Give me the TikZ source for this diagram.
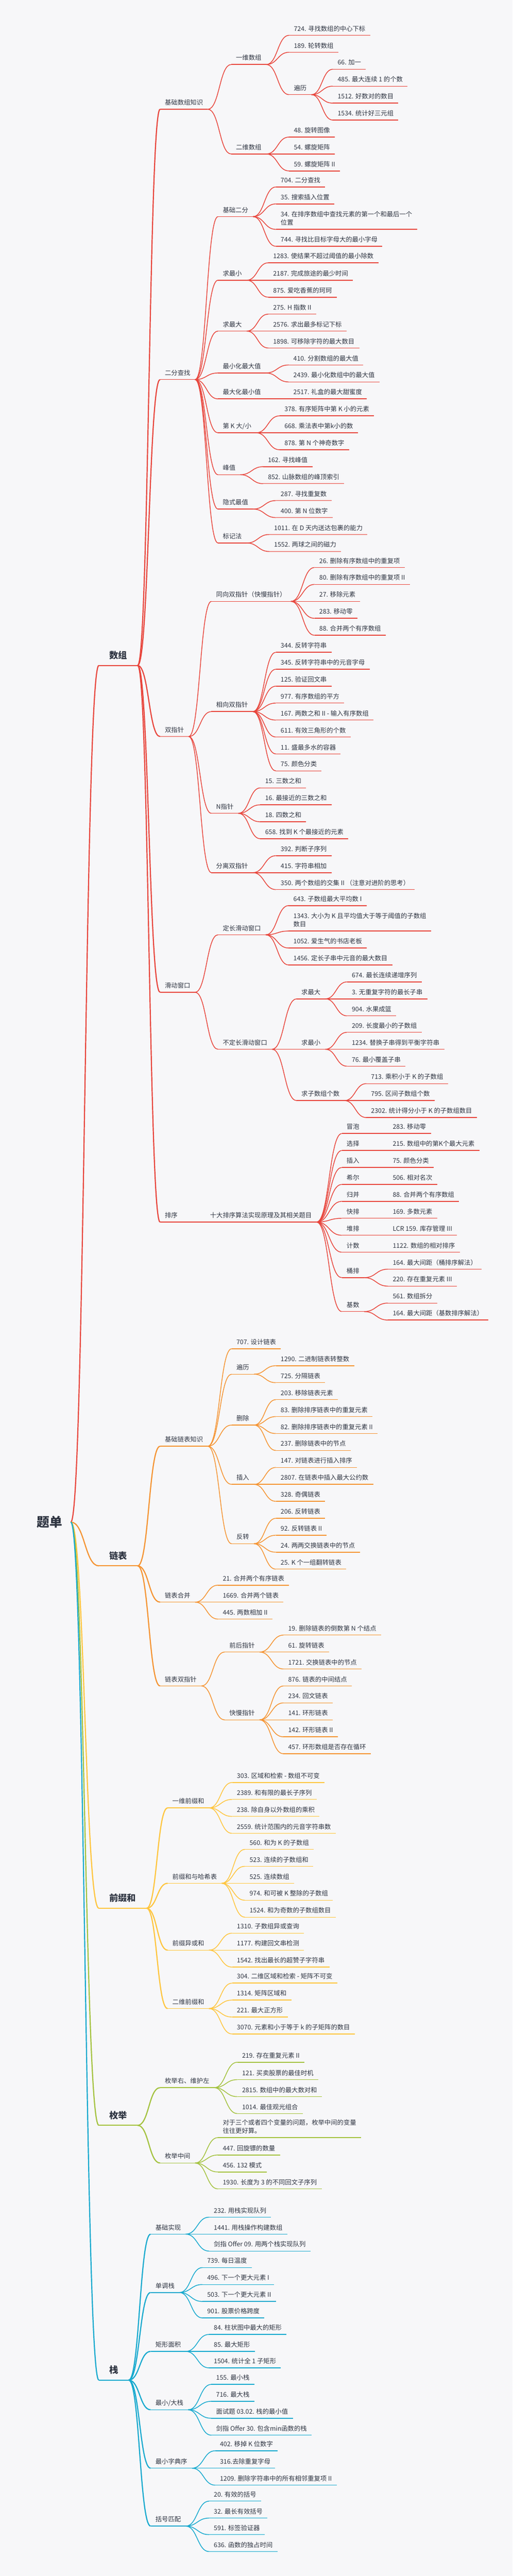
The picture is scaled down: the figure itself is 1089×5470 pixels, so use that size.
\documentclass[tikz,border=0pt]{standalone}
\usepackage{fontspec}
\setmainfont{Noto Sans CJK SC}
\usetikzlibrary{calc}

\definecolor{ink}{HTML}{2F3542}
\definecolor{paper}{HTML}{F7F7F9}
\definecolor{shuzu}{HTML}{E8453C}
\definecolor{lianbiao}{HTML}{F59331}
\definecolor{qianzhui}{HTML}{FFC53D}
\definecolor{meiju}{HTML}{A3C23E}
\definecolor{zhan}{HTML}{16A9CE}
\colorlet{branch}{shuzu}

\begin{document}
\begin{tikzpicture}[x=1pt, y=-1pt,
  base node/.style={anchor=south west, text=ink, align=left, text depth=2pt},
  topic node/.style={base node, inner xsep=10pt, inner ysep=7pt, font=\fontsize{13.5}{18}\selectfont,
    append after command={(\tikzlastnode.south west) edge[draw=branch, line width=1.6pt] (\tikzlastnode.south east)}},
  main node/.style={base node, inner xsep=22pt, inner ysep=12pt, font=\bfseries\fontsize{19}{22}\selectfont,
    append after command={(\tikzlastnode.south west) edge[draw=branch, line width=2.4pt] (\tikzlastnode.south east)}},
  root node/.style={anchor=west, text=ink, inner xsep=18pt, font=\bfseries\fontsize{27}{30}\selectfont},
  link/.style={draw=branch, line width=1.6pt, to path={let \p1=(\tikztostart), \p2=(\tikztotarget) in
    .. controls ({0.5*(\x1+\x2)},\y1) and ({0.5*(\x1+\x2)},\y2) .. (\tikztotarget)}},
  main link/.style={link, line width=2.4pt}]

\fill[paper] (0,0) rectangle (1089,5470);

\node[root node] (root) at (60,3232) {题单};

% 数组
\colorlet{branch}{shuzu}
\node[main node] (a0) at (210,1413) {数组};
\path[main link] (root.east) edge (a0.south west);

\node[topic node] (a1) at (340,232) {基础数组知识};
\node[topic node] (a11) at (491,137) {一维数组};
\node[topic node] (a111) at (614,75) {724. 寻找数组的中心下标};
\node[topic node] (a112) at (614,111) {189. 轮转数组};
\node[topic node] (a113) at (614,201) {遍历};
\node[topic node] (a1131) at (707,147) {66. 加一};
\node[topic node] (a1132) at (707,183) {485. 最大连续 1 的个数};
\node[topic node] (a1133) at (707,219) {1512. 好数对的数目};
\node[topic node] (a1134) at (707,255) {1534. 统计好三元组};
\node[topic node] (a12) at (491,327) {二维数组};
\node[topic node] (a121) at (614,291) {48. 旋转图像};
\node[topic node] (a122) at (614,327) {54. 螺旋矩阵};
\node[topic node] (a123) at (614,363) {59. 螺旋矩阵 II};

\node[topic node] (a2) at (340,806) {二分查找};
\node[topic node] (a21) at (463,460) {基础二分};
\node[topic node] (a211) at (586,397) {704. 二分查找};
\node[topic node] (a212) at (586,433) {35. 搜索插入位置};
\node[topic node] (a213) at (586,487) {34. 在排序数组中查找元素的第一个和最后一个\\位置};
\node[topic node] (a214) at (586,523) {744. 寻找比目标字母大的最小字母};
\node[topic node] (a22) at (463,595) {求最小};
\node[topic node] (a221) at (570,558) {1283. 使结果不超过阈值的最小除数};
\node[topic node] (a222) at (570,595) {2187. 完成旅途的最少时间};
\node[topic node] (a223) at (570,631) {875. 爱吃香蕉的珂珂};
\node[topic node] (a23) at (463,703) {求最大};
\node[topic node] (a231) at (570,667) {275. H 指数 II};
\node[topic node] (a232) at (570,703) {2576. 求出最多标记下标};
\node[topic node] (a233) at (570,739) {1898. 可移除字符的最大数目};
\node[topic node] (a24) at (463,792) {最小化最大值};
\node[topic node] (a241) at (613,775) {410. 分割数组的最大值};
\node[topic node] (a242) at (613,811) {2439. 最小化数组中的最大值};
\node[topic node] (a25) at (463,847) {最大化最小值};
\node[topic node] (a251) at (613,847) {2517. 礼盒的最大甜蜜度};
\node[topic node] (a26) at (463,919) {第 K 大/小};
\node[topic node] (a261) at (594,883) {378. 有序矩阵中第 K 小的元素};
\node[topic node] (a262) at (594,919) {668. 乘法表中第k小的数};
\node[topic node] (a263) at (594,955) {878. 第 N 个神奇数字};
\node[topic node] (a27) at (463,1008) {峰值};
\node[topic node] (a271) at (559,991) {162. 寻找峰值};
\node[topic node] (a272) at (559,1027) {852. 山脉数组的峰顶索引};
\node[topic node] (a28) at (463,1081) {隐式最值};
\node[topic node] (a281) at (586,1063) {287. 寻找重复数};
\node[topic node] (a282) at (586,1099) {400. 第 N 位数字};
\node[topic node] (a29) at (463,1153) {标记法};
\node[topic node] (a291) at (572,1135) {1011. 在 D 天内送达包裹的能力};
\node[topic node] (a292) at (572,1171) {1552. 两球之间的磁力};

\node[topic node] (a3) at (340,1564) {双指针};
\node[topic node] (a31) at (449,1277) {同向双指针（快慢指针）};
\node[topic node] (a311) at (668,1205) {26. 删除有序数组中的重复项};
\node[topic node] (a312) at (668,1241) {80. 删除有序数组中的重复项 II};
\node[topic node] (a313) at (668,1277) {27. 移除元素};
\node[topic node] (a314) at (668,1313) {283. 移动零};
\node[topic node] (a315) at (668,1349) {88. 合并两个有序数组};
\node[topic node] (a32) at (449,1511) {相向双指针};
\node[topic node] (a321) at (586,1385) {344. 反转字符串};
\node[topic node] (a322) at (586,1421) {345. 反转字符串中的元音字母};
\node[topic node] (a323) at (586,1457) {125. 验证回文串};
\node[topic node] (a324) at (586,1493) {977. 有序数组的平方};
\node[topic node] (a325) at (586,1529) {167. 两数之和 II - 输入有序数组};
\node[topic node] (a326) at (586,1565) {611. 有效三角形的个数};
\node[topic node] (a327) at (586,1601) {11. 盛最多水的容器};
\node[topic node] (a328) at (586,1637) {75. 颜色分类};
\node[topic node] (a33) at (449,1727) {N指针};
\node[topic node] (a331) at (553,1673) {15. 三数之和};
\node[topic node] (a332) at (553,1709) {16. 最接近的三数之和};
\node[topic node] (a333) at (553,1745) {18. 四数之和};
\node[topic node] (a334) at (553,1781) {658. 找到 K 个最接近的元素};
\node[topic node] (a34) at (449,1853) {分离双指针};
\node[topic node] (a341) at (586,1817) {392. 判断子序列};
\node[topic node] (a342) at (586,1853) {415. 字符串相加};
\node[topic node] (a343) at (586,1889) {350. 两个数组的交集 II （注意对进阶的思考）};

\node[topic node] (a4) at (340,2107) {滑动窗口};
\node[topic node] (a41) at (463,1985) {定长滑动窗口};
\node[topic node] (a411) at (613,1923) {643. 子数组最大平均数 I};
\node[topic node] (a412) at (613,1977) {1343. 大小为 K 且平均值大于等于阈值的子数组\\数目};
\node[topic node] (a413) at (613,2013) {1052. 爱生气的书店老板};
\node[topic node] (a414) at (613,2049) {1456. 定长子串中元音的最大数目};
\node[topic node] (a42) at (463,2228) {不定长滑动窗口};
\node[topic node] (a421) at (630,2121) {求最大};
\node[topic node] (a4211) at (737,2085) {674. 最长连续递增序列};
\node[topic node] (a4212) at (737,2121) {3. 无重复字符的最长子串};
\node[topic node] (a4213) at (737,2157) {904. 水果成篮};
\node[topic node] (a422) at (630,2228) {求最小};
\node[topic node] (a4221) at (737,2192) {209. 长度最小的子数组};
\node[topic node] (a4222) at (737,2228) {1234. 替换子串得到平衡字符串};
\node[topic node] (a4223) at (737,2264) {76. 最小覆盖子串};
\node[topic node] (a423) at (630,2337) {求子数组个数};
\node[topic node] (a4231) at (778,2301) {713. 乘积小于 K 的子数组};
\node[topic node] (a4232) at (778,2337) {795. 区间子数组个数};
\node[topic node] (a4233) at (778,2373) {2302. 统计得分小于 K 的子数组数目};

\node[topic node] (a5) at (340,2595) {排序};
\node[topic node] (a51) at (436,2595) {十大排序算法实现原理及其相关题目};
\node[topic node] (a511) at (726,2407) {冒泡};
\node[topic node] (a5111) at (824,2407) {283. 移动零};
\node[topic node] (a512) at (726,2443) {选择};
\node[topic node] (a5121) at (824,2443) {215. 数组中的第K个最大元素};
\node[topic node] (a513) at (726,2479) {插入};
\node[topic node] (a5131) at (824,2479) {75. 颜色分类};
\node[topic node] (a514) at (726,2515) {希尔};
\node[topic node] (a5141) at (824,2515) {506. 相对名次};
\node[topic node] (a515) at (726,2551) {归并};
\node[topic node] (a5151) at (824,2551) {88. 合并两个有序数组};
\node[topic node] (a516) at (726,2587) {快排};
\node[topic node] (a5161) at (824,2587) {169. 多数元素};
\node[topic node] (a517) at (726,2623) {堆排};
\node[topic node] (a5171) at (824,2623) {LCR 159. 库存管理 III};
\node[topic node] (a518) at (726,2659) {计数};
\node[topic node] (a5181) at (824,2659) {1122. 数组的相对排序};
\node[topic node] (a519) at (726,2713) {桶排};
\node[topic node] (a5191) at (824,2695) {164. 最大间距（桶排序解法）};
\node[topic node] (a5192) at (824,2731) {220. 存在重复元素 III};
\node[topic node] (a510) at (726,2785) {基数};
\node[topic node] (a5101) at (824,2767) {561. 数组拆分};
\node[topic node] (a5102) at (824,2803) {164. 最大间距（基数排序解法）};

\path[main link] (a0.south east) edge (a1.south west) edge (a2.south west) edge (a3.south west) edge (a4.south west) edge (a5.south west);
\path[link] (a1.south east) edge (a11.south west) edge (a12.south west);
\path[link] (a11.south east) edge (a111.south west) edge (a112.south west) edge (a113.south west);
\path[link] (a113.south east) edge (a1131.south west) edge (a1132.south west) edge (a1133.south west) edge (a1134.south west);
\path[link] (a12.south east) edge (a121.south west) edge (a122.south west) edge (a123.south west);
\path[link] (a2.south east) edge (a21.south west) edge (a22.south west) edge (a23.south west) edge (a24.south west) edge (a25.south west) edge (a26.south west) edge (a27.south west) edge (a28.south west) edge (a29.south west);
\path[link] (a21.south east) edge (a211.south west) edge (a212.south west) edge (a213.south west) edge (a214.south west);
\path[link] (a22.south east) edge (a221.south west) edge (a222.south west) edge (a223.south west);
\path[link] (a23.south east) edge (a231.south west) edge (a232.south west) edge (a233.south west);
\path[link] (a24.south east) edge (a241.south west) edge (a242.south west);
\path[link] (a25.south east) edge (a251.south west);
\path[link] (a26.south east) edge (a261.south west) edge (a262.south west) edge (a263.south west);
\path[link] (a27.south east) edge (a271.south west) edge (a272.south west);
\path[link] (a28.south east) edge (a281.south west) edge (a282.south west);
\path[link] (a29.south east) edge (a291.south west) edge (a292.south west);
\path[link] (a3.south east) edge (a31.south west) edge (a32.south west) edge (a33.south west) edge (a34.south west);
\path[link] (a31.south east) edge (a311.south west) edge (a312.south west) edge (a313.south west) edge (a314.south west) edge (a315.south west);
\path[link] (a32.south east) edge (a321.south west) edge (a322.south west) edge (a323.south west) edge (a324.south west) edge (a325.south west) edge (a326.south west) edge (a327.south west) edge (a328.south west);
\path[link] (a33.south east) edge (a331.south west) edge (a332.south west) edge (a333.south west) edge (a334.south west);
\path[link] (a34.south east) edge (a341.south west) edge (a342.south west) edge (a343.south west);
\path[link] (a4.south east) edge (a41.south west) edge (a42.south west);
\path[link] (a41.south east) edge (a411.south west) edge (a412.south west) edge (a413.south west) edge (a414.south west);
\path[link] (a42.south east) edge (a421.south west) edge (a422.south west) edge (a423.south west);
\path[link] (a421.south east) edge (a4211.south west) edge (a4212.south west) edge (a4213.south west);
\path[link] (a422.south east) edge (a4221.south west) edge (a4222.south west) edge (a4223.south west);
\path[link] (a423.south east) edge (a4231.south west) edge (a4232.south west) edge (a4233.south west);
\path[link] (a5.south east) edge (a51.south west);
\path[link] (a51.south east) edge (a511.south west) edge (a512.south west) edge (a513.south west) edge (a514.south west) edge (a515.south west) edge (a516.south west) edge (a517.south west) edge (a518.south west) edge (a519.south west) edge (a510.south west);
\path[link] (a511.south east) edge (a5111.south west);
\path[link] (a512.south east) edge (a5121.south west);
\path[link] (a513.south east) edge (a5131.south west);
\path[link] (a514.south east) edge (a5141.south west);
\path[link] (a515.south east) edge (a5151.south west);
\path[link] (a516.south east) edge (a5161.south west);
\path[link] (a517.south east) edge (a5171.south west);
\path[link] (a518.south east) edge (a5181.south west);
\path[link] (a519.south east) edge (a5191.south west) edge (a5192.south west);
\path[link] (a510.south east) edge (a5101.south west) edge (a5102.south west);

% 链表
\colorlet{branch}{lianbiao}
\node[main node] (b0) at (210,3325) {链表};
\path[main link] (root.east) edge (b0.south west);

\node[topic node] (b1) at (340,3071) {基础链表知识};
\node[topic node] (b11) at (492,2864) {707. 设计链表};
\node[topic node] (b12) at (492,2918) {遍历};
\node[topic node] (b121) at (586,2900) {1290. 二进制链表转整数};
\node[topic node] (b122) at (586,2936) {725. 分隔链表};
\node[topic node] (b13) at (492,3026) {删除};
\node[topic node] (b131) at (586,2972) {203. 移除链表元素};
\node[topic node] (b132) at (586,3008) {83. 删除排序链表中的重复元素};
\node[topic node] (b133) at (586,3044) {82. 删除排序链表中的重复元素 II};
\node[topic node] (b134) at (586,3080) {237. 删除链表中的节点};
\node[topic node] (b14) at (492,3152) {插入};
\node[topic node] (b141) at (586,3116) {147. 对链表进行插入排序};
\node[topic node] (b142) at (586,3152) {2807. 在链表中插入最大公约数};
\node[topic node] (b143) at (586,3188) {328. 奇偶链表};
\node[topic node] (b15) at (492,3278) {反转};
\node[topic node] (b151) at (586,3224) {206. 反转链表};
\node[topic node] (b152) at (586,3260) {92. 反转链表 II};
\node[topic node] (b153) at (586,3296) {24. 两两交换链表中的节点};
\node[topic node] (b154) at (586,3332) {25. K 个一组翻转链表};
\node[topic node] (b2) at (340,3402) {链表合并};
\node[topic node] (b21) at (463,3366) {21. 合并两个有序链表};
\node[topic node] (b22) at (463,3402) {1669. 合并两个链表};
\node[topic node] (b23) at (463,3438) {445. 两数相加 II};
\node[topic node] (b3) at (340,3580) {链表双指针};
\node[topic node] (b31) at (477,3508) {前后指针};
\node[topic node] (b311) at (602,3472) {19. 删除链表的倒数第 N 个结点};
\node[topic node] (b312) at (602,3508) {61. 旋转链表};
\node[topic node] (b313) at (602,3544) {1721. 交换链表中的节点};
\node[topic node] (b32) at (477,3652) {快慢指针};
\node[topic node] (b321) at (602,3580) {876. 链表的中间结点};
\node[topic node] (b322) at (602,3616) {234. 回文链表};
\node[topic node] (b323) at (602,3652) {141. 环形链表};
\node[topic node] (b324) at (602,3688) {142. 环形链表 II};
\node[topic node] (b325) at (602,3724) {457. 环形数组是否存在循环};

\path[main link] (b0.south east) edge (b1.south west) edge (b2.south west) edge (b3.south west);
\path[link] (b1.south east) edge (b11.south west) edge (b12.south west) edge (b13.south west) edge (b14.south west) edge (b15.south west);
\path[link] (b12.south east) edge (b121.south west) edge (b122.south west);
\path[link] (b13.south east) edge (b131.south west) edge (b132.south west) edge (b133.south west) edge (b134.south west);
\path[link] (b14.south east) edge (b141.south west) edge (b142.south west) edge (b143.south west);
\path[link] (b15.south east) edge (b151.south west) edge (b152.south west) edge (b153.south west) edge (b154.south west);
\path[link] (b2.south east) edge (b21.south west) edge (b22.south west) edge (b23.south west);
\path[link] (b3.south east) edge (b31.south west) edge (b32.south west);
\path[link] (b31.south east) edge (b311.south west) edge (b312.south west) edge (b313.south west);
\path[link] (b32.south east) edge (b321.south west) edge (b322.south west) edge (b323.south west) edge (b324.south west) edge (b325.south west);

% 前缀和
\colorlet{branch}{qianzhui}
\node[main node] (c0) at (210,4052) {前缀和};
\path[main link] (root.east) edge (c0.south west);

\node[topic node] (c1) at (356,3839) {一维前缀和};
\node[topic node] (c11) at (493,3785) {303. 区域和检索 - 数组不可变};
\node[topic node] (c12) at (493,3821) {2389. 和有限的最长子序列};
\node[topic node] (c13) at (493,3857) {238. 除自身以外数组的乘积};
\node[topic node] (c14) at (493,3893) {2559. 统计范围内的元音字符串数};
\node[topic node] (c2) at (356,3999) {前缀和与哈希表};
\node[topic node] (c21) at (520,3927) {560. 和为 K 的子数组};
\node[topic node] (c22) at (520,3963) {523. 连续的子数组和};
\node[topic node] (c23) at (520,3999) {525. 连续数组};
\node[topic node] (c24) at (520,4035) {974. 和可被 K 整除的子数组};
\node[topic node] (c25) at (520,4071) {1524. 和为奇数的子数组数目};
\node[topic node] (c3) at (356,4141) {前缀异或和};
\node[topic node] (c31) at (493,4105) {1310. 子数组异或查询};
\node[topic node] (c32) at (493,4141) {1177. 构建回文串检测};
\node[topic node] (c33) at (493,4177) {1542. 找出最长的超赞子字符串};
\node[topic node] (c4) at (356,4265) {二维前缀和};
\node[topic node] (c41) at (493,4211) {304. 二维区域和检索 - 矩阵不可变};
\node[topic node] (c42) at (493,4247) {1314. 矩阵区域和};
\node[topic node] (c43) at (493,4283) {221. 最大正方形};
\node[topic node] (c44) at (493,4319) {3070. 元素和小于等于 k 的子矩阵的数目};

\path[main link] (c0.south east) edge (c1.south west) edge (c2.south west) edge (c3.south west) edge (c4.south west);
\path[link] (c1.south east) edge (c11.south west) edge (c12.south west) edge (c13.south west) edge (c14.south west);
\path[link] (c2.south east) edge (c21.south west) edge (c22.south west) edge (c23.south west) edge (c24.south west) edge (c25.south west);
\path[link] (c3.south east) edge (c31.south west) edge (c32.south west) edge (c33.south west);
\path[link] (c4.south east) edge (c41.south west) edge (c42.south west) edge (c43.south west) edge (c44.south west);

% 枚举
\colorlet{branch}{meiju}
\node[main node] (d0) at (210,4513) {枚举};
\path[main link] (root.east) edge (d0.south west);

\node[topic node] (d1) at (340,4433) {枚举右、维护左};
\node[topic node] (d11) at (504,4379) {219. 存在重复元素 II};
\node[topic node] (d12) at (504,4416) {121. 买卖股票的最佳时机};
\node[topic node] (d13) at (504,4452) {2815. 数组中的最大数对和};
\node[topic node] (d14) at (504,4488) {1014. 最佳观光组合};
\node[topic node] (d2) at (340,4593) {枚举中间};
\node[topic node] (d21) at (463,4539) {对于三个或者四个变量的问题，枚举中间的变量\\往往更好算。};
\node[topic node] (d22) at (463,4576) {447. 回旋镖的数量};
\node[topic node] (d23) at (463,4612) {456. 132 模式};
\node[topic node] (d24) at (463,4648) {1930. 长度为 3 的不同回文子序列};

\path[main link] (d0.south east) edge (d1.south west) edge (d2.south west);
\path[link] (d1.south east) edge (d11.south west) edge (d12.south west) edge (d13.south west) edge (d14.south west);
\path[link] (d2.south east) edge (d21.south west) edge (d22.south west) edge (d23.south west) edge (d24.south west);

% 栈
\colorlet{branch}{zhan}
\node[main node] (e0) at (210,5054) {栈};
\path[main link] (root.east) edge (e0.south west);

\node[topic node] (e1) at (320,4744) {基础实现};
\node[topic node] (e11) at (444,4708) {232. 用栈实现队列};
\node[topic node] (e12) at (444,4744) {1441. 用栈操作构建数组};
\node[topic node] (e13) at (444,4780) {剑指 Offer 09. 用两个栈实现队列};
\node[topic node] (e2) at (320,4868) {单调栈};
\node[topic node] (e21) at (430,4815) {739. 每日温度};
\node[topic node] (e22) at (430,4851) {496. 下一个更大元素 I};
\node[topic node] (e23) at (430,4887) {503. 下一个更大元素 II};
\node[topic node] (e24) at (430,4922) {901. 股票价格跨度};
\node[topic node] (e3) at (320,4993) {矩形面积};
\node[topic node] (e31) at (444,4957) {84. 柱状图中最大的矩形};
\node[topic node] (e32) at (444,4993) {85. 最大矩形};
\node[topic node] (e33) at (444,5028) {1504. 统计全 1 子矩形};
\node[topic node] (e4) at (320,5117) {最小/大栈};
\node[topic node] (e41) at (449,5063) {155. 最小栈};
\node[topic node] (e42) at (449,5099) {716. 最大栈};
\node[topic node] (e43) at (449,5135) {面试题 03.02. 栈的最小值};
\node[topic node] (e44) at (449,5171) {剑指 Offer 30. 包含min函数的栈};
\node[topic node] (e5) at (320,5241) {最小字典序};
\node[topic node] (e51) at (457,5204) {402. 移掉 K 位数字};
\node[topic node] (e52) at (457,5241) {316.去除重复字母};
\node[topic node] (e53) at (457,5277) {1209. 删除字符串中的所有相邻重复项 II};
\node[topic node] (e6) at (320,5364) {括号匹配};
\node[topic node] (e61) at (444,5311) {20. 有效的括号};
\node[topic node] (e62) at (444,5347) {32. 最长有效括号};
\node[topic node] (e63) at (444,5382) {591. 标签验证器};
\node[topic node] (e64) at (444,5418) {636. 函数的独占时间};

\path[main link] (e0.south east) edge (e1.south west) edge (e2.south west) edge (e3.south west) edge (e4.south west) edge (e5.south west) edge (e6.south west);
\path[link] (e1.south east) edge (e11.south west) edge (e12.south west) edge (e13.south west);
\path[link] (e2.south east) edge (e21.south west) edge (e22.south west) edge (e23.south west) edge (e24.south west);
\path[link] (e3.south east) edge (e31.south west) edge (e32.south west) edge (e33.south west);
\path[link] (e4.south east) edge (e41.south west) edge (e42.south west) edge (e43.south west) edge (e44.south west);
\path[link] (e5.south east) edge (e51.south west) edge (e52.south west) edge (e53.south west);
\path[link] (e6.south east) edge (e61.south west) edge (e62.south west) edge (e63.south west) edge (e64.south west);

\end{tikzpicture}
\end{document}
